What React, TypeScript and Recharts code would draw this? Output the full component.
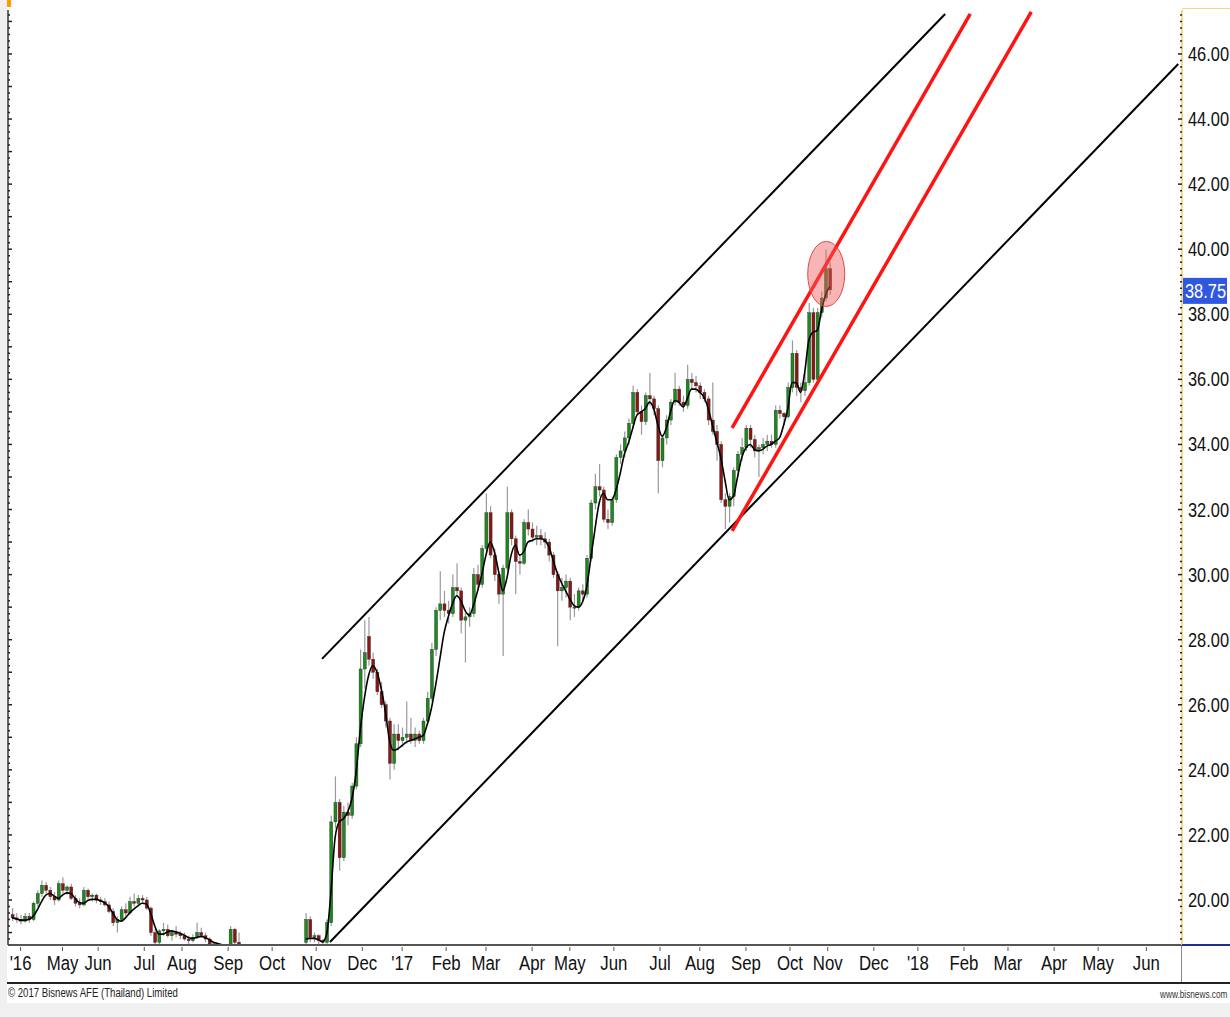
import React from 'react';
import { ComposedChart, Bar, Line, XAxis, YAxis, ReferenceLine, ReferenceDot } from 'recharts';

// Arial-metric font squeezed horizontally to look like Arial Narrow
const FONT = "'Liberation Sans', Arial, sans-serif";
const SQUEEZE = 0.8;

// bottom axis: month labels placed on trading-day index
const monthLabels = ["'16", 'May', 'Jun', 'Jul', 'Aug', 'Sep', 'Oct', 'Nov', 'Dec', "'17", 'Feb', 'Mar', 'Apr', 'May', 'Jun', 'Jul', 'Aug', 'Sep', 'Oct', 'Nov', 'Dec', "'18", 'Feb', 'Mar', 'Apr', 'May', 'Jun'];
const monthDays = [6, 26, 43, 65, 83, 105, 126, 147, 169, 188, 209, 228, 250, 268, 289, 311, 330, 352, 373, 391, 413, 434, 456, 477, 499, 520, 543];

// right axis labels
const priceLabels = [20, 22, 24, 26, 28, 30, 32, 34, 36, 38, 40, 42, 44, 46];
const lastPrice = 38.75;

// candles: [trading day, open, high, low, close, moving average]
const apr16Aug16 = [
  [2, 19.55, 19.75, 19.35, 19.45, 19.45], [4, 19.45, 19.6, 19.3, 19.4, 19.42], [6, 19.4, 19.55, 19.25, 19.35, 19.38],
  [8, 19.35, 19.6, 19.3, 19.5, 19.38], [10, 19.5, 19.6, 19.3, 19.4, 19.4], [12, 19.4, 19.95, 19.35, 19.9, 19.5],
  [14, 19.9, 20.3, 19.8, 20.2, 19.7], [16, 20.2, 20.6, 20.1, 20.45, 19.95], [18, 20.45, 20.55, 20.2, 20.3, 20.15],
  [20, 20.3, 20.4, 20.0, 20.1, 20.2], [22, 20.1, 20.25, 19.85, 20.0, 20.12], [24, 20.0, 20.6, 19.95, 20.5, 20.05],
  [26, 20.5, 20.7, 20.2, 20.3, 20.15], [28, 20.3, 20.45, 20.15, 20.4, 20.22], [30, 20.4, 20.5, 20.0, 20.05, 20.2],
  [32, 20.05, 20.15, 19.8, 19.9, 20.05], [34, 19.9, 20.05, 19.75, 19.85, 19.92], [36, 19.85, 20.4, 19.8, 20.3, 19.9],
  [38, 20.3, 20.35, 20.0, 20.1, 19.98], [40, 20.1, 20.2, 19.95, 20.15, 20.02], [42, 20.15, 20.2, 19.9, 20.0, 20.02],
  [44, 20.0, 20.1, 19.85, 19.95, 19.98], [46, 19.95, 20.05, 19.8, 19.85, 19.92], [48, 19.85, 19.95, 19.6, 19.65, 19.8],
  [50, 19.65, 19.75, 19.2, 19.3, 19.6], [52, 19.3, 19.5, 19.0, 19.4, 19.4], [54, 19.4, 19.8, 19.35, 19.7, 19.35],
  [56, 19.7, 19.9, 19.5, 19.6, 19.45], [58, 19.6, 20.1, 19.55, 19.95, 19.6], [60, 19.95, 20.2, 19.8, 19.9, 19.72],
  [62, 19.9, 20.15, 19.85, 20.05, 19.82], [64, 20.05, 20.15, 19.9, 20.0, 19.9], [66, 20.0, 20.1, 19.7, 19.75, 19.88],
  [68, 19.75, 19.8, 18.9, 19.0, 19.6], [70, 19.0, 19.1, 18.5, 18.7, 19.2], [72, 18.7, 19.1, 18.6, 19.05, 18.95],
  [74, 19.05, 19.3, 18.9, 19.1, 18.95], [76, 19.1, 19.25, 18.85, 18.9, 19.02], [78, 18.9, 19.05, 18.75, 19.0, 19.05],
  [80, 19.0, 19.2, 18.85, 18.95, 19.02], [82, 18.95, 19.05, 18.8, 18.9, 18.98], [84, 18.9, 19.0, 18.75, 18.8, 18.92],
  [86, 18.8, 18.9, 18.65, 18.75, 18.85], [88, 18.75, 18.95, 18.7, 18.85, 18.82], [90, 18.85, 19.3, 18.8, 19.0, 18.85],
  [92, 19.0, 19.15, 18.85, 18.9, 18.88], [94, 18.9, 19.0, 18.7, 18.8, 18.85], [96, 18.8, 18.85, 18.55, 18.65, 18.78],
  [98, 18.65, 18.7, 18.5, 18.6, 18.7],
];

const sep16 = [
  [106, 18.6, 19.2, 18.55, 19.1, 18.6], [108, 19.1, 19.15, 18.6, 18.7, 18.6], [110, 18.7, 19.0, 18.5, 18.6, 18.58],
];

const nov16Jan17 = [
  [142, 18.7, 19.6, 18.6, 19.4, 18.8], [144, 19.4, 19.5, 18.7, 18.85, 18.82], [146, 18.85, 19.0, 18.7, 18.9, 18.82],
  [148, 18.9, 18.95, 18.65, 18.75, 18.78], [150, 18.75, 18.8, 18.6, 18.7, 18.72], [152, 18.7, 19.4, 18.65, 19.3, 18.95],
  [154, 19.3, 22.6, 19.2, 22.4, 20.2], [156, 22.4, 23.8, 22.2, 23.0, 21.9], [158, 23.0, 23.1, 20.9, 21.3, 22.4],
  [160, 21.3, 22.9, 21.2, 22.7, 22.5], [162, 22.7, 23.0, 22.3, 22.6, 22.7], [164, 22.6, 23.6, 22.5, 23.5, 23.1],
  [166, 23.5, 25.0, 23.4, 24.8, 23.9], [168, 24.8, 27.7, 24.7, 27.1, 25.2], [170, 27.1, 28.6, 26.5, 27.6, 26.2],
  [172, 28.1, 28.7, 27.2, 27.4, 26.9], [174, 27.4, 27.6, 26.8, 27.0, 27.2], [176, 27.0, 27.1, 26.3, 26.4, 27.0],
  [178, 26.4, 26.7, 25.9, 26.0, 26.5], [180, 26.0, 26.1, 25.3, 25.5, 25.8], [182, 25.5, 25.6, 23.7, 24.2, 24.9],
  [184, 24.2, 25.4, 24.0, 25.1, 24.6], [186, 25.1, 25.4, 24.6, 24.9, 24.65], [188, 24.9, 25.3, 24.7, 25.0, 24.75],
  [190, 25.0, 26.1, 24.8, 25.1, 24.85], [192, 25.1, 25.6, 24.8, 24.9, 24.9], [194, 24.9, 25.3, 24.7, 25.1, 24.95],
  [196, 25.1, 25.2, 24.8, 24.9, 25.0], [198, 24.9, 25.6, 24.8, 25.5, 25.05], [200, 25.5, 26.4, 25.4, 26.2, 25.4],
  [202, 26.2, 27.9, 26.1, 27.7, 25.9], [204, 27.7, 29.0, 27.5, 28.9, 26.6], [206, 28.9, 30.1, 28.6, 29.1, 27.4],
  [208, 29.1, 29.5, 28.7, 28.9, 28.2],
];

const feb17Mar17 = [
  [210, 28.9, 29.2, 28.5, 28.8, 28.7], [212, 28.8, 30.0, 28.7, 29.6, 29.1], [214, 29.6, 30.35, 29.3, 29.5, 29.35],
  [216, 29.5, 29.6, 28.2, 28.6, 29.2], [218, 28.6, 28.9, 27.3, 28.7, 28.9], [220, 28.7, 29.0, 28.4, 28.8, 28.75],
  [222, 28.8, 30.2, 28.7, 30.0, 29.05], [224, 30.0, 30.3, 29.5, 29.7, 29.5], [226, 29.7, 30.9, 29.6, 30.8, 30.0],
  [228, 30.8, 32.5, 30.7, 31.9, 30.6], [230, 31.9, 32.1, 30.5, 30.6, 31.0], [232, 30.6, 30.8, 29.8, 30.0, 30.7],
  [234, 30.0, 30.1, 29.1, 29.4, 30.1], [236, 29.4, 30.3, 27.5, 30.2, 29.5], [238, 30.2, 32.7, 30.1, 31.9, 29.9],
  [240, 31.9, 32.0, 30.9, 31.1, 30.6], [242, 31.1, 31.2, 29.4, 30.4, 30.9], [244, 30.4, 30.6, 30.0, 30.35, 30.6],
  [246, 30.35, 31.7, 30.3, 31.6, 30.7], [248, 31.6, 32.0, 31.2, 31.4, 31.0], [250, 31.4, 31.6, 31.0, 31.15, 31.05],
  [252, 31.15, 31.5, 30.9, 31.2, 31.1], [254, 31.2, 31.4, 30.9, 31.1, 31.1], [256, 31.1, 31.3, 30.8, 31.0, 31.05],
  [258, 31.0, 31.1, 30.4, 30.6, 30.85],
];

const apr17May17 = [
  [260, 30.6, 30.7, 29.9, 30.0, 30.45], [262, 30.0, 30.1, 27.8, 29.5, 30.05], [264, 29.5, 29.9, 29.2, 29.6, 29.75],
  [266, 29.6, 30.0, 29.3, 29.8, 29.5], [268, 29.8, 29.9, 28.6, 29.0, 29.25], [270, 29.0, 29.4, 28.7, 29.0, 29.05],
  [272, 29.0, 29.6, 28.9, 29.5, 29.0], [274, 29.5, 29.7, 29.2, 29.4, 29.15], [276, 29.4, 30.6, 29.3, 30.5, 29.6],
  [278, 30.5, 32.3, 30.4, 32.2, 30.5], [280, 32.2, 33.1, 32.0, 32.7, 31.4], [282, 32.7, 33.4, 32.4, 32.6, 32.2],
  [284, 32.6, 32.7, 31.6, 31.7, 32.5], [286, 31.7, 32.0, 31.4, 31.6, 32.3], [288, 31.6, 32.4, 31.5, 32.3, 32.3],
];

const jun17Aug17 = [
  [290, 32.3, 33.7, 32.2, 33.6, 32.6], [292, 33.6, 34.0, 33.4, 33.8, 33.1], [294, 33.8, 34.4, 33.6, 34.2, 33.7],
  [296, 34.2, 34.8, 34.0, 34.65, 34.05], [298, 34.65, 35.8, 34.5, 35.6, 34.5], [300, 35.6, 35.7, 34.9, 35.0, 34.9],
  [302, 35.0, 35.2, 34.3, 34.7, 35.0], [304, 34.7, 35.6, 34.6, 35.5, 35.1], [306, 35.5, 36.2, 35.2, 35.4, 35.3],
  [308, 35.4, 35.5, 34.9, 35.1, 35.1], [310, 35.1, 35.2, 32.5, 33.5, 34.6], [312, 33.5, 34.3, 33.3, 34.2, 34.25],
  [314, 34.2, 34.9, 34.0, 34.75, 34.5], [316, 34.75, 35.4, 34.6, 35.3, 35.0], [318, 35.3, 36.2, 35.2, 35.7, 35.35],
  [320, 35.7, 35.8, 35.2, 35.3, 35.3], [322, 35.3, 35.5, 35.0, 35.2, 35.15], [324, 35.2, 36.45, 35.1, 36.0, 35.4],
  [326, 36.0, 36.2, 35.7, 35.9, 35.7], [328, 35.9, 36.1, 35.6, 35.8, 35.7], [330, 35.8, 35.9, 35.4, 35.6, 35.6],
  [332, 35.6, 35.7, 35.3, 35.4, 35.45], [334, 35.4, 35.5, 34.6, 34.75, 35.1], [336, 34.75, 35.9, 34.3, 34.4, 34.6],
  [338, 34.4, 34.6, 33.5, 34.0, 34.1], [340, 34.0, 34.1, 32.2, 32.3, 33.6], [342, 32.3, 32.5, 31.4, 32.1, 32.9],
  [344, 32.1, 32.5, 31.6, 32.4, 32.3],
];

const sep17Nov17 = [
  [346, 32.4, 33.3, 32.1, 33.2, 32.4], [348, 33.2, 33.8, 33.0, 33.7, 33.0], [350, 33.7, 34.2, 33.5, 33.9, 33.6],
  [352, 33.9, 34.6, 33.8, 34.5, 33.9], [354, 34.5, 34.6, 33.9, 34.15, 34.0], [356, 34.15, 34.3, 33.6, 33.8, 33.85],
  [358, 33.8, 34.0, 33.0, 33.9, 33.8], [360, 33.9, 34.2, 33.7, 34.0, 33.85], [362, 34.0, 34.3, 33.8, 34.1, 33.95],
  [364, 34.1, 34.3, 33.9, 34.0, 34.0], [366, 34.0, 35.2, 33.9, 35.05, 34.1], [368, 35.05, 35.2, 34.8, 34.95, 34.2],
  [370, 34.95, 35.0, 34.6, 34.85, 34.6], [372, 34.85, 35.9, 34.8, 35.75, 35.1], [374, 35.75, 37.2, 35.6, 36.8, 35.9],
  [376, 36.8, 36.9, 35.5, 35.75, 35.9], [378, 35.75, 35.9, 35.3, 35.65, 35.6], [380, 35.65, 36.2, 35.5, 35.9, 36.2],
  [382, 35.9, 38.35, 35.8, 38.05, 37.2], [384, 38.05, 38.2, 35.9, 36.0, 37.45], [386, 36.0, 38.2, 35.9, 38.05, 37.5],
  [388, 38.05, 38.7, 37.9, 38.5, 38.1], [390, 38.5, 40.0, 38.4, 39.4, 38.6], [392, 39.4, 39.6, 38.6, 38.75, 38.85],
];

// trend lines in (trading day, price): [d1, p1, d2, p2]
const blackChannel = [
  [149.8, 27.41, 447.0, 47.23],
  [153.6, 18.71, 558.2, 45.69],
];
const redChannel = [
  [345.4, 34.51, 459.0, 47.23],
  [345.4, 31.34, 488.1, 47.29],
];
const highlight = { d: 390.3, price: 39.24 };

const Y_DOMAIN: [number, number] = [18.617, 47.351];
const X_DOMAIN: [number, number] = [0, 560];

const toRow = ([d, o, h, l, c, ma]: number[]) => ({ d, o, h, l, c, ma, range: [l, h] });

const rows = [
  ...apr16Aug16.map(toRow),
  ...sep16.map(toRow),
  { d: 125 }, // break in the average line
  ...nov16Jan17.map(toRow),
  ...feb17Mar17.map(toRow),
  ...apr17May17.map(toRow),
  ...jun17Aug17.map(toRow),
  ...sep17Nov17.map(toRow),
];

const axisTicks: number[] = [];
for (let v = 188; v <= 472; v += 2) axisTicks.push(v / 10);

const NarrowText = ({ x, y, size, anchor = 'start', fill = '#111', children }: any) => (
  <text
    transform={`translate(${x},${y}) scale(${SQUEEZE},1)`}
    textAnchor={anchor}
    fontFamily={FONT}
    fontSize={size}
    fill={fill}
  >
    {children}
  </text>
);

const Candle = (props: any) => {
  const { x, y, width, height, payload } = props;
  if (!payload || payload.o == null || height == null) return null;
  const { o, h, l, c } = payload;
  const span = h - l || 1;
  const py = (v: number) => y + ((h - v) / span) * height;
  const cx = x + width / 2;
  const top = py(Math.max(o, c));
  const bot = py(Math.min(o, c));
  return (
    <g>
      <line x1={cx} x2={cx} y1={y} y2={y + height} stroke="#9a9a9a" strokeWidth={1.2} />
      <rect
        x={x}
        y={top}
        width={width}
        height={Math.max(1, bot - top)}
        fill={c >= o ? '#1c8a1c' : '#8a1616'}
        stroke="#2a2a2a"
        strokeWidth={0.4}
      />
    </g>
  );
};

const MonthTick = (props: any) => {
  const { x, y, payload } = props;
  const i = monthDays.indexOf(payload.value);
  return (
    <g>
      <line x1={x} x2={x} y1={y + 2} y2={y + 6} stroke="#555" strokeWidth={1} />
      <NarrowText x={x} y={y + 25} size={21} anchor="middle">
        {monthLabels[i]}
      </NarrowText>
    </g>
  );
};

const PriceTick = (props: any) => {
  const { x, y, payload } = props;
  const v = payload.value;
  const major = priceLabels.some((p) => Math.abs(p - v) < 0.01);
  return (
    <g>
      <line x1={x - (major ? 4 : 2)} x2={x} y1={y} y2={y} stroke="#222" strokeWidth={1.5} />
      {major && (
        <NarrowText x={x + 6} y={y + 7} size={20.5}>
          {v.toFixed(2)}
        </NarrowText>
      )}
    </g>
  );
};

const LeftTick = (props: any) => {
  const { x, y, payload } = props;
  const whole = Math.abs(payload.value - Math.round(payload.value)) < 0.01;
  return <line x1={x} x2={x + (whole ? 4 : 2)} y1={y} y2={y} stroke="#222" strokeWidth={1.5} />;
};

const LastPriceTag = (props: any) => {
  const { cx, cy } = props;
  return (
    <g>
      <rect x={cx + 1} y={cy - 12} width={44} height={26} fill="#2f58e0" />
      <NarrowText x={cx + 3} y={cy + 8} size={20.5} fill="#ffffff">
        {lastPrice.toFixed(2)}
      </NarrowText>
    </g>
  );
};

const Highlight = (props: any) => {
  const { cx, cy } = props;
  return <ellipse cx={cx} cy={cy} rx={18.5} ry={32.5} fill="rgba(240, 90, 90, 0.45)" stroke="#e04848" strokeWidth={1} />;
};

const App: React.FC = () => {
  return (
    <div style={{ position: 'absolute', left: 0, top: 0, width: 1230, height: 1017, background: '#f0f0f0', overflow: 'hidden' }}>
      <div style={{ position: 'absolute', left: 7, top: 0, width: 1223, height: 1003, background: '#ffffff' }} />
      <div style={{ position: 'absolute', left: 0, top: 0 }}>
        <ComposedChart width={1230} height={983} data={rows} margin={{ top: 10, right: 0, bottom: 0, left: 7 }}>
          <XAxis
            type="number"
            dataKey="d"
            domain={X_DOMAIN}
            allowDataOverflow
            ticks={monthDays}
            interval={0}
            height={38}
            tickSize={0}
            tickMargin={0}
            axisLine={{ stroke: '#555', strokeWidth: 2 }}
            tickLine={false}
            tick={<MonthTick />}
          />
          <YAxis
            yAxisId="l"
            orientation="left"
            width={1}
            domain={Y_DOMAIN}
            allowDataOverflow
            ticks={axisTicks}
            interval={0}
            tickSize={0}
            tickMargin={0}
            axisLine={{ stroke: '#333', strokeWidth: 1.5 }}
            tickLine={false}
            tick={<LeftTick />}
          />
          <YAxis
            yAxisId="p"
            orientation="right"
            width={48}
            domain={Y_DOMAIN}
            allowDataOverflow
            ticks={axisTicks}
            interval={0}
            tickSize={0}
            tickMargin={0}
            axisLine={{ stroke: '#f2d98a', strokeWidth: 2 }}
            tickLine={false}
            tick={<PriceTick />}
          />
          <Bar yAxisId="p" dataKey="range" barSize={3} shape={<Candle />} isAnimationActive={false} />
          <Line
            yAxisId="p"
            dataKey="ma"
            type="monotone"
            stroke="#000"
            strokeWidth={1.6}
            dot={false}
            activeDot={false}
            isAnimationActive={false}
          />
          {blackChannel.map(([d1, p1, d2, p2], i) => (
            <ReferenceLine
              key={`b${i}`}
              yAxisId="p"
              segment={[{ x: d1, y: p1 }, { x: d2, y: p2 }]}
              stroke="#000"
              strokeWidth={2}
              ifOverflow="visible"
            />
          ))}
          {redChannel.map(([d1, p1, d2, p2], i) => (
            <ReferenceLine
              key={`r${i}`}
              yAxisId="p"
              segment={[{ x: d1, y: p1 }, { x: d2, y: p2 }]}
              stroke="#ff1414"
              strokeWidth={3.5}
              ifOverflow="visible"
            />
          ))}
          <ReferenceDot yAxisId="p" x={highlight.d} y={highlight.price} r={18} ifOverflow="visible" shape={<Highlight />} />
          <ReferenceDot yAxisId="p" x={X_DOMAIN[1]} y={lastPrice} r={1} ifOverflow="visible" shape={<LastPriceTag />} />
        </ComposedChart>
      </div>
      {/* frame pieces around the axes */}
      <div style={{ position: 'absolute', left: 7, top: 0, width: 4, height: 7, background: '#ff9900' }} />
      <div style={{ position: 'absolute', left: 1182, top: 8, width: 48, height: 1, background: '#f2d98a' }} />
      <div style={{ position: 'absolute', left: 1182, top: 944, width: 48, height: 2, background: '#1f2f8f' }} />
      <div style={{ position: 'absolute', left: 1181, top: 946, width: 1, height: 37, background: '#888' }} />
      <div style={{ position: 'absolute', left: 7, top: 982, width: 1223, height: 2, background: '#222' }} />
      <div
        style={{
          position: 'absolute', left: 8, top: 986, fontFamily: FONT, fontSize: 12, color: '#222',
          whiteSpace: 'nowrap', transform: `scaleX(${SQUEEZE})`, transformOrigin: 'left top',
        }}
      >
        © 2017 Bisnews AFE (Thailand) Limited
      </div>
      <div
        style={{
          position: 'absolute', left: 1160, top: 988, fontFamily: FONT, fontSize: 11, color: '#333',
          whiteSpace: 'nowrap', transform: `scaleX(0.75)`, transformOrigin: 'left top',
        }}
      >
        www.bisnews.com
      </div>
    </div>
  );
};

export default App;
